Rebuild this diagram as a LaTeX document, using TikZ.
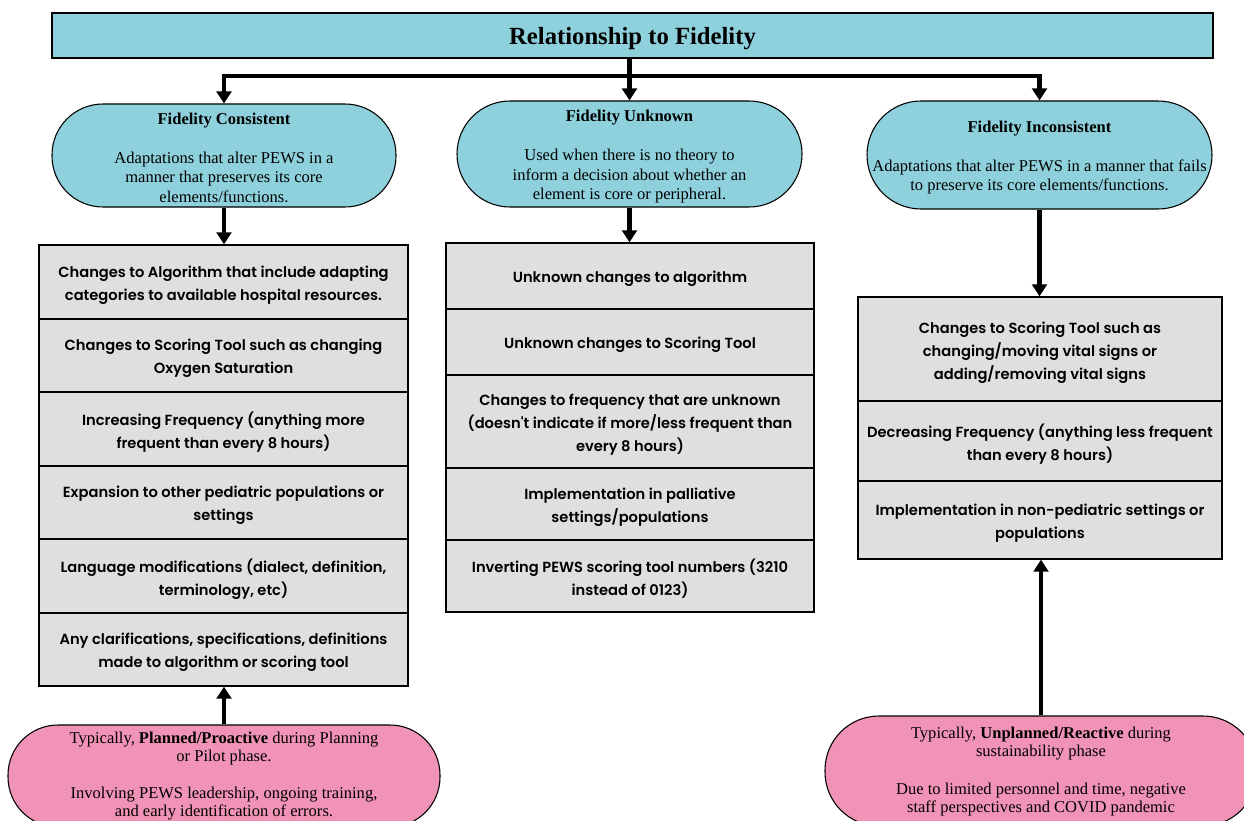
\documentclass[tikz,border=0pt]{standalone}
\usepackage{fontspec}
\setmainfont{Liberation Serif}
\newfontfamily\boxfont{Poppins}[BoldFont={* SemiBold}]
\usetikzlibrary{arrows.meta}
\definecolor{fblue}{RGB}{142,209,220}
\definecolor{fpink}{RGB}{241,147,182}
\definecolor{fgray}{RGB}{223,224,221}
\def\P#1{#1*0.75pt}
\begin{document}
\begin{tikzpicture}[x=0.75pt,y=-0.75pt,
  titlebox/.style={draw=black, line width=0.8pt, fill=fblue, inner sep=0pt},
  titletext/.style={inner sep=0pt, font=\bfseries\fontsize{18.5}{22}\selectfont},
  stadium/.style={draw=black, line width=0.8pt, fill=fblue, inner sep=0pt},
  stadtext/.style={align=center, inner sep=0pt, font=\fontsize{12.4}{14.5}\selectfont},
  pinkbox/.style={draw=black, line width=0.8pt, fill=fpink, inner sep=0pt},
  pinktext/.style={align=center, inner sep=0pt, font=\fontsize{12.4}{13.5}\selectfont},
  rowbox/.style={draw=black, line width=1pt, fill=fgray, inner sep=0pt},
  rowtext/.style={align=center, inner sep=0pt, font=\boxfont\bfseries\fontsize{11}{17.25}\selectfont},
  conn/.style={line width=3.6pt, -{Triangle[length=9pt,width=11pt]}}
]
\useasboundingbox (0,0) rectangle (1244,820);
\fill[white] (0,0) rectangle (1244,820);

% title
\node[titlebox, minimum width=\P{1161}, minimum height=\P{45}] (title) at (632.5,35.5) {};
\node[titletext] (titlet) at ([yshift=-2.5pt]title.center) {Relationship to Fidelity};

% category stadiums
\node[stadium, minimum width=\P{344}, minimum height=\P{103}, rounded corners=\P{51}] (fc) at (224,155.5) {};
\node[stadtext] (fct) at ([yshift=-1.5pt]fc.center)
  {\textbf{Fidelity Consistent}\\[15pt]Adaptations that alter PEWS in a\\manner that preserves its core\\elements/functions.};
\node[stadium, minimum width=\P{345}, minimum height=\P{106}, rounded corners=\P{53}] (fu) at (629.5,154) {};
\node[stadtext] (fut) at ([yshift=-2pt]fu.center)
  {\textbf{Fidelity Unknown}\\[15pt]Used when there is no theory to\\inform a decision about whether an\\element is core or peripheral.};
\node[stadium, minimum width=\P{345}, minimum height=\P{108}, rounded corners=\P{54}] (fi) at (1039.5,155) {};
\node[stadtext] (fit) at ([yshift=-2pt]fi.center)
  {\textbf{Fidelity Inconsistent}\\[15pt]Adaptations that alter PEWS in a manner that fails\\to preserve its core elements/functions.};

% left stack
\node[rowbox, minimum width=\P{369}, minimum height=\P{74}] (L1) at (223.5,282) {};
\node[rowtext] (L1t) at ([yshift=-2.25pt]L1.center) {Changes to Algorithm that include adapting\\categories to available hospital resources.};
\node[rowbox, minimum width=\P{369}, minimum height=\P{73}] (L2) at (223.5,355.5) {};
\node[rowtext] (L2t) at ([yshift=-2.25pt]L2.center) {Changes to Scoring Tool such as changing\\Oxygen Saturation};
\node[rowbox, minimum width=\P{369}, minimum height=\P{74}] (L3) at (223.5,429) {};
\node[rowtext] (L3t) at ([yshift=-2.25pt]L3.center) {Increasing Frequency (anything more\\frequent than every 8 hours)};
\node[rowbox, minimum width=\P{369}, minimum height=\P{73}] (L4) at (223.5,502.5) {};
\node[rowtext] (L4t) at ([yshift=-2.25pt]L4.center) {Expansion to other pediatric populations or\\settings};
\node[rowbox, minimum width=\P{369}, minimum height=\P{74}] (L5) at (223.5,576) {};
\node[rowtext] (L5t) at ([yshift=-2.25pt]L5.center) {Language modifications (dialect, definition,\\terminology, etc)};
\node[rowbox, minimum width=\P{369}, minimum height=\P{73}] (L6) at (223.5,649.5) {};
\node[rowtext] (L6t) at ([yshift=-2.25pt]L6.center) {Any clarifications, specifications, definitions\\made to algorithm or scoring tool};

% middle stack
\node[rowbox, minimum width=\P{368}, minimum height=\P{66}] (M1) at (630,276) {};
\node[rowtext] (M1t) at ([yshift=-2.25pt]M1.center) {Unknown changes to algorithm};
\node[rowbox, minimum width=\P{368}, minimum height=\P{66}] (M2) at (630,342) {};
\node[rowtext] (M2t) at ([yshift=-2.25pt]M2.center) {Unknown changes to Scoring Tool};
\node[rowbox, minimum width=\P{368}, minimum height=\P{93}] (M3) at (630,421.5) {};
\node[rowtext] (M3t) at ([yshift=-2.25pt]M3.center) {Changes to frequency that are unknown\\(doesn't indicate if more/less frequent than\\every 8 hours)};
\node[rowbox, minimum width=\P{368}, minimum height=\P{72}] (M4) at (630,504) {};
\node[rowtext] (M4t) at ([yshift=-2.25pt]M4.center) {Implementation in palliative\\settings/populations};
\node[rowbox, minimum width=\P{368}, minimum height=\P{72}] (M5) at (630,576) {};
\node[rowtext] (M5t) at ([yshift=-2.25pt]M5.center) {Inverting PEWS scoring tool numbers (3210\\instead of 0123)};

% right stack
\node[rowbox, minimum width=\P{364}, minimum height=\P{104}] (R1) at (1040,349) {};
\node[rowtext] (R1t) at ([yshift=-2.5pt]R1.center) {Changes to Scoring Tool such as\\changing/moving vital signs or\\adding/removing vital signs};
\node[rowbox, minimum width=\P{364}, minimum height=\P{80}] (R2) at (1040,441) {};
\node[rowtext] (R2t) at ([yshift=-2.25pt]R2.center) {Decreasing Frequency (anything less frequent\\than every 8 hours)};
\node[rowbox, minimum width=\P{364}, minimum height=\P{78}] (R3) at (1040,520) {};
\node[rowtext] (R3t) at ([yshift=-2.25pt]R3.center) {Implementation in non-pediatric settings or\\populations};

% pink boxes (cut off by the page edge)
\begin{scope}
\clip (0,0) rectangle (1244,820);
\node[pinkbox, minimum width=\P{432}, minimum height=\P{102}, rounded corners=\P{50}] (pl) at (224,776) {};
\node[pinktext] (plt) at (pl.center)
  {Typically, \textbf{Planned/Proactive} during Planning\\or Pilot phase.\\[14pt]Involving PEWS leadership, ongoing training,\\and early identification of errors.};
\node[pinkbox, minimum width=\P{432}, minimum height=\P{110}, rounded corners=\P{54}] (pr) at (1041,771) {};
\node[pinktext] (prt) at ([yshift=-0.5pt]pr.center)
  {Typically, \textbf{Unplanned/Reactive} during\\sustainability phase\\[15pt]Due to limited personnel and time, negative\\staff perspectives and COVID pandemic};
\end{scope}

% connectors
\coordinate (hj) at (629,76);
\draw[conn] (fu.north |- title.south) -- (fu.north);
\draw[conn] (hj) -| (fc.north);
\draw[conn] (hj) -| (fi.north);
\draw[conn] (fc.south) -- (fc.south |- L1.north);
\draw[conn] (fu.south) -- (fu.south |- M1.north);
\draw[conn] (fi.south) -- (fi.south |- R1.north);
\draw[conn] (pl.north) -- (pl.north |- L6.south);
\draw[conn] (pr.north) -- (pr.north |- R3.south);
\end{tikzpicture}
\end{document}
